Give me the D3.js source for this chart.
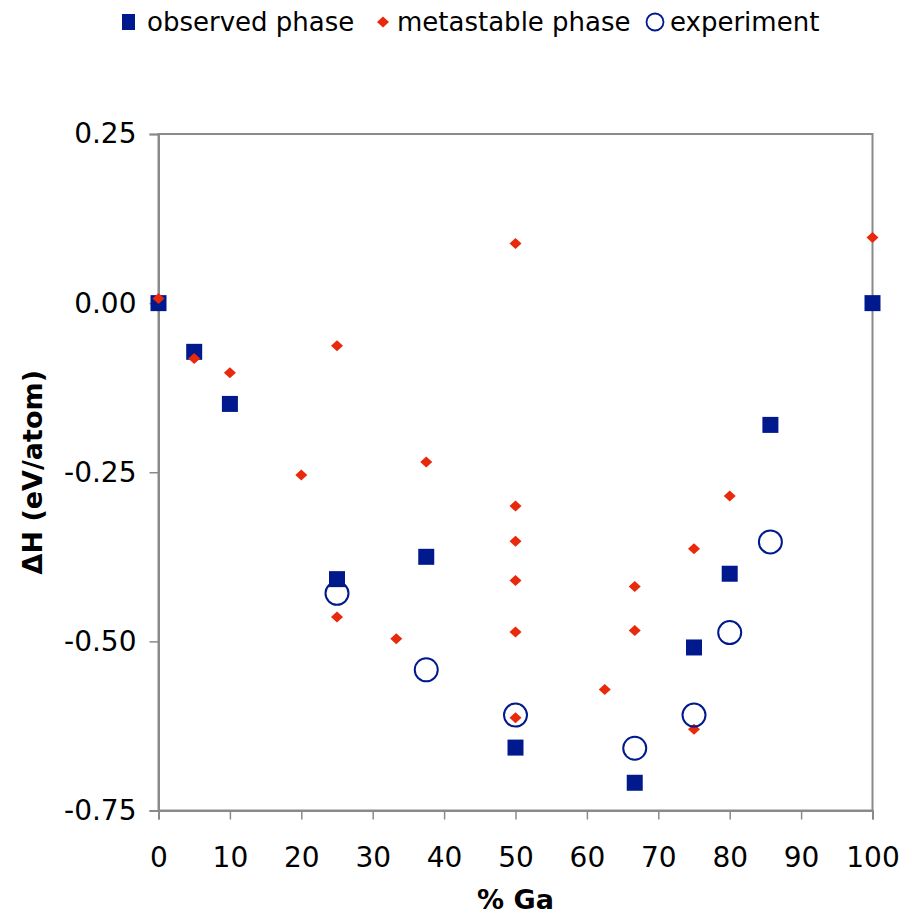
<!DOCTYPE html>
<html>
<head>
<meta charset="utf-8">
<script src="https://cdn.jsdelivr.net/npm/d3@7"></script>
<style>
  html, body { margin: 0; padding: 0; background: #fff; }
  svg { display: block; font-family: "DejaVu Sans", sans-serif; }
</style>
</head>
<body>
<svg id="chart" width="903" height="917"></svg>
<script>
// observed phase (squares)
const observedX = [0, 5, 10, 25, 37.5, 50, 66.7, 75, 80, 85.7, 100];
const observedY = [0, -0.072, -0.149, -0.408, -0.375, -0.657, -0.709, -0.509, -0.400, -0.180, 0];

// metastable phase (diamonds)
const metaX = [0, 5, 10, 20, 25, 25, 33.3, 37.5, 50, 50, 50, 50, 50, 50, 62.5, 66.7, 66.7, 75, 75, 80, 100];
const metaY = [0.007, -0.082, -0.103, -0.254, -0.063, -0.464, -0.496, -0.235, 0.088, -0.300, -0.352, -0.410, -0.486, -0.613,
  -0.571, -0.419, -0.484, -0.363, -0.630, -0.285, 0.097];

// experiment (open circles)
const expX = [25, 37.5, 50, 66.7, 75, 80, 85.7];
const expY = [-0.429, -0.542, -0.609, -0.658, -0.609, -0.487, -0.353];

const xTicks = [0, 10, 20, 30, 40, 50, 60, 70, 80, 90, 100];
const yTicks = [0.25, 0, -0.25, -0.5, -0.75];

const legendItems = ["observed phase", "metastable phase", "experiment"];

const navy = "#001a8e";
const red = "#e8290b";
const axisColor = "#8a8a8a";

const svg = d3.select("#chart");
const plotLeft = 158.5, plotRight = 872.5, plotTop = 134, plotBottom = 810.5;

const x = d3.scaleLinear().domain([0, 100]).range([plotLeft, plotRight]);
const y = d3.scaleLinear().domain([-0.75, 0.25]).range([plotBottom, plotTop]);

// frame
svg.append("rect")
  .attr("x", plotLeft).attr("y", plotTop)
  .attr("width", plotRight - plotLeft).attr("height", plotBottom - plotTop)
  .attr("fill", "none").attr("stroke", axisColor).attr("stroke-width", 2);

// axes
const xAxis = svg.append("g")
  .attr("transform", `translate(0,${plotBottom})`)
  .call(d3.axisBottom(x).tickValues(xTicks).tickSize(9).tickPadding(28).tickFormat(d3.format("d")));
const yAxis = svg.append("g")
  .attr("transform", `translate(${plotLeft},0)`)
  .call(d3.axisLeft(y).tickValues(yTicks).tickSize(9).tickPadding(13).tickFormat(d3.format(".2f")));

[xAxis, yAxis].forEach((g) => {
  g.select(".domain").attr("stroke", axisColor).attr("stroke-width", 2);
  g.selectAll(".tick line").attr("stroke", axisColor).attr("stroke-width", 1.5);
  g.selectAll(".tick text").attr("fill", "#000").style("font-size", "28px").style("font-family", "DejaVu Sans, sans-serif");
});
yAxis.selectAll(".tick text").text((d) => d3.format(".2f")(d).replace("−", "-"));

// axis titles
svg.append("text")
  .attr("x", (plotLeft + plotRight) / 2).attr("y", 909)
  .attr("text-anchor", "middle")
  .style("font-size", "27px").style("font-weight", "bold")
  .text("% Ga");

svg.append("text")
  .attr("transform", `translate(42,${(plotTop + plotBottom) / 2}) rotate(-90)`)
  .attr("text-anchor", "middle")
  .style("font-size", "27px").style("font-weight", "bold")
  .text("ΔH (eV/atom)");

const diamondPath = (cx, cy) => `M${cx - 6},${cy}L${cx},${cy - 5.5}L${cx + 6},${cy}L${cx},${cy + 5.5}Z`;

// observed squares
svg.append("g").selectAll("rect")
  .data(d3.zip(observedX, observedY))
  .join("rect")
  .attr("x", (d) => x(d[0]) - 8).attr("y", (d) => y(d[1]) - 8)
  .attr("width", 16).attr("height", 16)
  .attr("fill", navy);

// metastable diamonds
svg.append("g").selectAll("path")
  .data(d3.zip(metaX, metaY))
  .join("path")
  .attr("d", (d) => diamondPath(x(d[0]), y(d[1])))
  .attr("fill", red);

// experiment circles
svg.append("g").selectAll("circle")
  .data(d3.zip(expX, expY))
  .join("circle")
  .attr("cx", (d) => x(d[0])).attr("cy", (d) => y(d[1]))
  .attr("r", 11.5)
  .attr("fill", "none").attr("stroke", navy).attr("stroke-width", 2);

// legend
const legend = svg.append("g").style("font-size", "26px");
const legendY = 22;
legend.append("rect").attr("x", 122).attr("y", legendY - 8).attr("width", 13).attr("height", 16).attr("fill", navy);
legend.append("text").attr("x", 147).attr("y", legendY).attr("dy", "0.35em").text(legendItems[0]);
legend.append("path").attr("d", diamondPath(383, legendY)).attr("fill", red);
legend.append("text").attr("x", 397).attr("y", legendY).attr("dy", "0.35em").text(legendItems[1]);
legend.append("circle").attr("cx", 655).attr("cy", legendY).attr("r", 8.5)
  .attr("fill", "none").attr("stroke", navy).attr("stroke-width", 1.8);
legend.append("text").attr("x", 670).attr("y", legendY).attr("dy", "0.35em").text(legendItems[2]);
</script>
</body>
</html>
